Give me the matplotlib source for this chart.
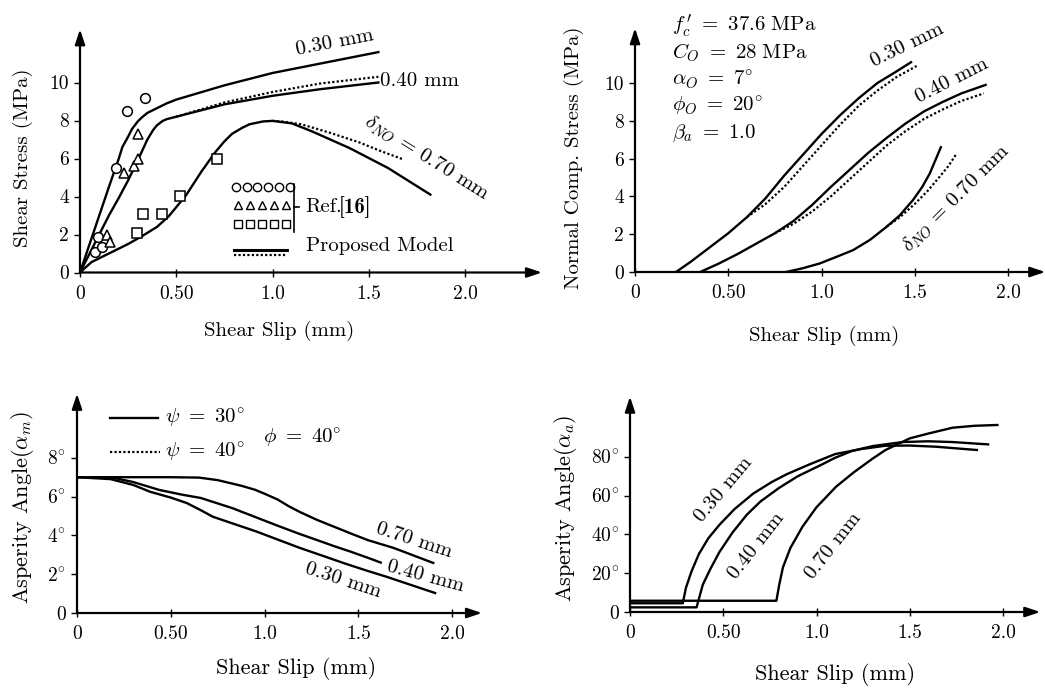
import numpy as np
import matplotlib.pyplot as plt

plt.rcParams['font.family'] = ['cmr10', 'DejaVu Serif']
plt.rcParams['mathtext.fontset'] = 'cm'
plt.rcParams['axes.unicode_minus'] = False

W, H = 1045, 689

# ---- panel 1: shear stress vs slip ----
s030_x = [0, 0.05, 0.10, 0.15, 0.20, 0.22, 0.25, 0.27, 0.30, 0.32, 0.35, 0.37, 0.40, 0.45,
          0.50, 0.75, 1.0, 1.25, 1.55]
s030_y = [0, 1.5, 3.0, 4.5, 5.95, 6.6, 7.15, 7.55, 7.95, 8.15, 8.4, 8.5, 8.65, 8.9,
          9.1, 9.85, 10.5, 11.0, 11.6]
s040_x = [0, 0.05, 0.10, 0.15, 0.20, 0.25, 0.30, 0.35, 0.38, 0.40, 0.43, 0.45, 0.50, 0.75,
          1.0, 1.25, 1.55]
s040_y = [0, 1.0, 2.0, 3.0, 3.9, 4.85, 5.9, 7.0, 7.5, 7.75, 7.98, 8.07, 8.2, 8.85,
          9.3, 9.65, 10.0]
s040d_x = [0.50, 0.75, 1.0, 1.25, 1.55]
s040d_y = [8.2, 8.95, 9.5, 9.95, 10.3]
s070_x = [0, 0.06, 0.15, 0.25, 0.32, 0.40, 0.46, 0.55, 0.63, 0.70, 0.75, 0.79, 0.84, 0.88,
          0.95, 1.0, 1.1, 1.2, 1.4, 1.6, 1.82]
s070_y = [0, 0.55, 1.0, 1.5, 1.9, 2.4, 2.95, 4.05, 5.3, 6.3, 6.9, 7.3, 7.6, 7.8,
          7.95, 7.98, 7.85, 7.45, 6.55, 5.5, 4.1]
s070d_x = [1.0, 1.05, 1.15, 1.3, 1.45, 1.56, 1.68]
s070d_y = [7.98, 7.95, 7.8, 7.35, 6.85, 6.4, 5.95]

ref_circ_x = [0.078, 0.095, 0.113, 0.185, 0.242, 0.338]
ref_circ_y = [1.1, 1.85, 1.35, 5.5, 8.5, 9.2]
ref_tri_x = [0.14, 0.156, 0.23, 0.282, 0.303, 0.303]
ref_tri_y = [1.97, 1.59, 5.22, 5.6, 5.97, 7.29]
ref_sq_x = [0.294, 0.329, 0.424, 0.52, 0.71]
ref_sq_y = [2.1, 3.06, 3.1, 4.03, 6.0]

# ---- panel 2: normal compressive stress vs slip ----
n030_x = [0.22, 0.30, 0.40, 0.50, 0.60, 0.70, 0.80, 0.90, 1.0, 1.1, 1.2, 1.3, 1.4, 1.48]
n030_y = [0, 0.55, 1.3, 2.05, 2.9, 3.9, 5.1, 6.2, 7.3, 8.3, 9.2, 10.0, 10.6, 11.1]
n030d_x = [0.60, 0.70, 0.80, 0.90, 1.0, 1.1, 1.2, 1.3, 1.4, 1.51]
n030d_y = [2.9, 3.6, 4.5, 5.6, 6.7, 7.8, 8.8, 9.6, 10.3, 10.9]
n040_x = [0.35, 0.45, 0.55, 0.65, 0.75, 0.85, 0.95, 1.05, 1.15, 1.25, 1.35, 1.45, 1.55,
          1.65, 1.75, 1.88]
n040_y = [0, 0.45, 0.95, 1.5, 2.05, 2.7, 3.55, 4.5, 5.4, 6.3, 7.1, 7.85, 8.5, 9.0, 9.45, 9.9]
n040d_x = [0.75, 0.85, 0.95, 1.05, 1.15, 1.25, 1.35, 1.45, 1.55, 1.65, 1.75, 1.87]
n040d_y = [2.05, 2.55, 3.2, 4.0, 4.9, 5.8, 6.7, 7.45, 8.1, 8.6, 9.05, 9.45]
n070_x = [0.81, 0.90, 0.99, 1.08, 1.17, 1.26, 1.35, 1.42, 1.49, 1.54, 1.58, 1.61, 1.64]
n070_y = [0, 0.2, 0.45, 0.8, 1.16, 1.7, 2.4, 3.0, 3.8, 4.5, 5.2, 5.9, 6.6]
n070d_x = [1.35, 1.42, 1.50, 1.57, 1.63, 1.68, 1.72]
n070d_y = [2.4, 2.9, 3.6, 4.3, 5.0, 5.6, 6.2]

# ---- panel 3: asperity angle alpha_m ----
m070_x = [0, 0.3, 0.5, 0.65, 0.75, 0.88, 0.95, 1.0, 1.07, 1.13, 1.19, 1.28, 1.37, 1.46,
          1.55, 1.69, 1.9]
m070_y = [7, 7, 7, 6.98, 6.85, 6.55, 6.35, 6.15, 5.85, 5.5, 5.2, 4.8, 4.45, 4.1,
          3.76, 3.35, 2.58]
m040_x = [0, 0.18, 0.3, 0.44, 0.56, 0.66, 0.83, 0.95, 1.07, 1.18, 1.28, 1.37, 1.46, 1.55, 1.62]
m040_y = [7, 7, 6.75, 6.34, 6.1, 5.93, 5.4, 4.95, 4.5, 4.1, 3.76, 3.45, 3.16, 2.85, 2.6]
m030_x = [0, 0.18, 0.3, 0.39, 0.5, 0.585, 0.66, 0.725, 0.85, 0.96, 1.08, 1.19, 1.31, 1.42,
          1.54, 1.65, 1.78, 1.91]
m030_y = [7, 6.9, 6.6, 6.25, 5.95, 5.67, 5.3, 4.96, 4.55, 4.19, 3.75, 3.35, 2.95, 2.58,
          2.2, 1.87, 1.45, 1.03]

# ---- panel 4: asperity angle alpha_a ----
a030_x = [0, 0.283, 0.30, 0.33, 0.37, 0.42, 0.48, 0.56, 0.66, 0.76, 0.84, 0.96, 1.1, 1.24,
          1.37, 1.5, 1.64, 1.86]
a030_y = [4.5, 4.5, 12.5, 21, 30, 38, 45, 53, 61, 67, 71, 76, 81.4, 84, 85.7, 85.8, 85.2, 83.5]
a040_x = [0, 0.357, 0.39, 0.43, 0.48, 0.55, 0.625, 0.7, 0.8, 0.9, 1.02, 1.1, 1.19, 1.3,
          1.46, 1.6, 1.73, 1.92]
a040_y = [2.4, 2.4, 14, 22, 31, 41, 50, 57, 64, 70, 75.6, 79.5, 83, 85.5, 87.6, 88, 87.6, 86.4]
a070_x = [0, 0.785, 0.80, 0.82, 0.86, 0.925, 1.0, 1.105, 1.2, 1.3, 1.37, 1.5, 1.6, 1.73,
          1.85, 1.97]
a070_y = [5.8, 5.8, 14, 23, 33, 44, 54, 64.6, 72, 79, 83.5, 89.5, 92, 95, 96, 96.4]

x_ticks = [0, 0.5, 1.0, 1.5, 2.0]
x_ticklabels = ['0', '0.50', '1.0', '1.5', '2.0']

fig = plt.figure(figsize=(W / 100, H / 100), dpi=100)


def make_axes(ox, oy, sx, sy, xmax, ymax):
    ax = fig.add_axes([ox / W, (H - oy) / H, xmax * sx / W, ymax * sy / H])
    ax.set_xlim(0, xmax)
    ax.set_ylim(0, ymax)
    for sp in ax.spines.values():
        sp.set_visible(False)
    ax.patch.set_alpha(0)
    arrow = dict(arrowstyle='-|>,head_length=0.9,head_width=0.3', lw=1.6, color='k',
                 shrinkA=0, shrinkB=0)
    ax.annotate('', xy=(1, 0), xytext=(0, 0), xycoords='axes fraction', arrowprops=arrow)
    ax.annotate('', xy=(0, 1), xytext=(0, 0), xycoords='axes fraction', arrowprops=arrow)
    ax.set_xticks(x_ticks)
    ax.set_xticklabels(x_ticklabels)
    ax.tick_params(axis='x', direction='inout', length=6, width=1, pad=6, labelsize=14)
    ax.tick_params(axis='y', direction='out', length=4, width=1, pad=4, labelsize=14)
    return ax


solid = dict(color='k', lw=1.7)
dotted = dict(color='k', lw=1.6, ls=(0, (1, 1)))

# panel 1
ax1 = make_axes(80, 272.5, 192.5, 19, 2.4, 12.8)
ax1.set_yticks([0, 2, 4, 6, 8, 10])
ax1.plot(s030_x, s030_y, **solid)
ax1.plot(s040d_x, s040d_y, **dotted)
ax1.plot(s040_x, s040_y, **solid)
ax1.plot(s070d_x, s070d_y, **dotted)
ax1.plot(s070_x, s070_y, **solid)
mk = dict(ls='none', mfc='white', mec='k', mew=1.1, ms=7)
ax1.plot(ref_circ_x, ref_circ_y, marker='o', **mk)
ax1.plot(ref_tri_x, ref_tri_y, marker='^', **mk)
ax1.plot(ref_sq_x, ref_sq_y, marker='s', **dict(mk, ms=6.5))
# hand-drawn style legend
lg = dict(ls='none', mfc='white', mec='k', mew=1.0)
ax1.plot(np.linspace(0.81, 1.09, 6), [4.5] * 6, marker='o', ms=6, **lg)
ax1.plot(np.linspace(0.82, 1.07, 5), [3.55] * 5, marker='^', ms=6, **lg)
ax1.plot(np.linspace(0.82, 1.07, 5), [2.55] * 5, marker='s', ms=5.5, **lg)
ax1.plot([1.11, 1.11], [2.15, 4.65], color='k', lw=1.2)
ax1.plot([1.11, 1.14], [3.45, 3.45], color='k', lw=1.2)
ax1.text(1.17, 3.45, 'Ref.', fontsize=15, va='center')
ax1.text(1.345, 3.45, '[16]', fontsize=15, va='center', family=['cmb10', 'DejaVu Serif'])
ax1.plot([0.8, 1.075], [1.19, 1.19], color='k', lw=2.2)
ax1.plot([0.8, 1.075], [0.92, 0.92], **dotted)
ax1.text(1.175, 1.4, 'Proposed Model', fontsize=15, va='center')
ax1.text(1.325, 12.1, '0.30 mm', fontsize=15, ha='center', va='center', rotation=11)
ax1.text(1.56, 10.1, '0.40 mm', fontsize=15, ha='left', va='center')
ax1.text(1.80, 6.05, r'$\delta_{NO}$ = 0.70 mm', fontsize=15, ha='center', va='center',
         rotation=-32)
ax1.set_xlabel('Shear Slip (mm)', fontsize=15, labelpad=13, x=0.43)
ax1.set_ylabel('Shear Stress (MPa)', fontsize=15, labelpad=12, y=0.47)

# panel 2
ax2 = make_axes(635, 272, 186.5, 18.9, 2.2, 12.9)
ax2.set_yticks([0, 2, 4, 6, 8, 10])
ax2.plot(n030d_x, n030d_y, **dotted)
ax2.plot(n030_x, n030_y, **solid)
ax2.plot(n040d_x, n040d_y, **dotted)
ax2.plot(n040_x, n040_y, **solid)
ax2.plot(n070d_x, n070d_y, **dotted)
ax2.plot(n070_x, n070_y, **solid)
params = [r"$f_c^{\,\prime}\ =\ 37.6\ \mathrm{MPa}$", r"$C_O\ =\ 28\ \mathrm{MPa}$",
          r"$\alpha_O\ =\ 7^{\circ}$", r"$\phi_O\ =\ 20^{\circ}$", r"$\beta_a\ =\ 1.0$"]
for i, t in enumerate(params):
    ax2.text(0.2, 13.05 - i * 1.43, t, fontsize=15, va='center', clip_on=False)
ax2.text(1.46, 12.0, '0.30 mm', fontsize=15, ha='center', va='center', rotation=26)
ax2.text(1.70, 10.15, '0.40 mm', fontsize=15, ha='center', va='center', rotation=27)
ax2.text(1.72, 3.9, r'$\delta_{NO}$ = 0.70 mm', fontsize=15, ha='center', va='center',
         rotation=45)
ax2.set_xlabel('Shear Slip (mm)', fontsize=15, labelpad=17, x=0.46)
ax2.set_ylabel('Normal Comp. Stress (MPa)', fontsize=15, labelpad=15, y=0.47)

# panel 3
ax3 = make_axes(77, 613, 187.5, 19.4, 2.16, 11.3)
ax3.set_yticks([0, 2, 4, 6, 8])
ax3.set_yticklabels(['0', r'$2^{\circ}$', r'$4^{\circ}$', r'$6^{\circ}$', r'$8^{\circ}$'])
ax3.plot(m070_x, m070_y, **solid)
ax3.plot(m040_x, m040_y, **solid)
ax3.plot(m030_x, m030_y, **solid)
ax3.plot([0.176, 0.432], [10.05, 10.05], **solid)
ax3.plot([0.176, 0.44], [8.3, 8.3], **dotted)
ax3.text(0.47, 10.05, r'$\psi\ =\ 30^{\circ}$', fontsize=15, va='center')
ax3.text(0.47, 8.3, r'$\psi\ =\ 40^{\circ}$', fontsize=15, va='center')
ax3.text(0.99, 9.0, r'$\phi\ =\ 40^{\circ}$', fontsize=15, va='center')
ax3.text(1.80, 3.75, '0.70 mm', fontsize=15, ha='center', va='center', rotation=-18)
ax3.text(1.86, 1.9, '0.40 mm', fontsize=15, ha='center', va='center', rotation=-15)
ax3.text(1.42, 1.7, '0.30 mm', fontsize=15, ha='center', va='center', rotation=-18)
ax3.set_xlabel('Shear Slip (mm)', fontsize=16, labelpad=10, x=0.54)
ax3.set_ylabel(r'Asperity Angle($\alpha_m$)', fontsize=16, labelpad=8, y=0.48)

# panel 4
ax4 = make_axes(630, 612, 186.5, 1.94, 2.2, 111)
ax4.set_yticks([0, 20, 40, 60, 80])
ax4.set_yticklabels(['0', r'$20^{\circ}$', r'$40^{\circ}$', r'$60^{\circ}$', r'$80^{\circ}$'])
ax4.plot(a030_x, a030_y, **solid)
ax4.plot(a040_x, a040_y, **solid)
ax4.plot(a070_x, a070_y, **solid)
ax4.text(0.50, 63, '0.30 mm', fontsize=15, ha='center', va='center', rotation=50)
ax4.text(0.68, 34, '0.40 mm', fontsize=15, ha='center', va='center', rotation=52)
ax4.text(1.09, 34, '0.70 mm', fontsize=15, ha='center', va='center', rotation=52)
ax4.set_xlabel('Shear Slip (mm)', fontsize=16, labelpad=15, x=0.50)
ax4.set_ylabel(r'Asperity Angle($\alpha_a$)', fontsize=16, labelpad=8, y=0.48)

fig.savefig('out.png', dpi=100)
